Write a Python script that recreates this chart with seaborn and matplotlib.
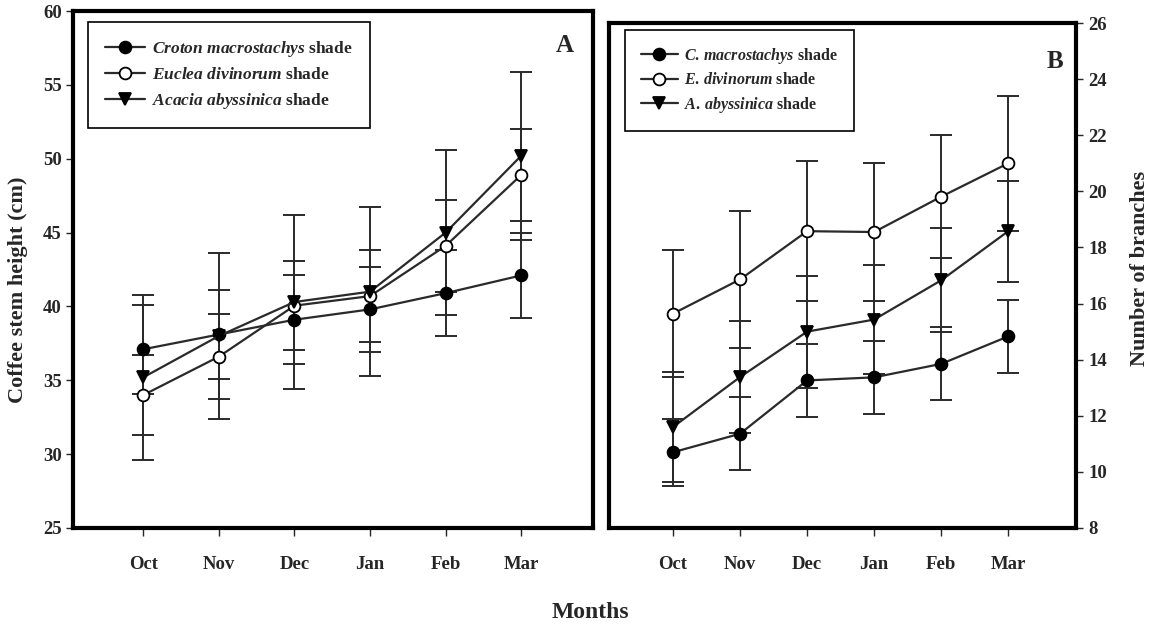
import numpy as np
import pandas as pd
import matplotlib
matplotlib.use("Agg")
import matplotlib.pyplot as plt
import seaborn as sns

months = ["Oct", "Nov", "Dec", "Jan", "Feb", "Mar"]

# Panel A: coffee stem height (cm)
height_croton = [37.1, 38.1, 39.1, 39.8, 40.9, 42.1]
height_croton_err = [3.0, 3.0, 3.0, 2.9, 2.9, 2.9]
height_euclea = [34.0, 36.6, 40.05, 40.7, 44.1, 48.9]
height_euclea_err = [2.7, 2.9, 3.0, 3.1, 3.1, 3.1]
height_acacia = [35.2, 38.0, 40.3, 41.0, 45.0, 50.2]
height_acacia_err = [5.6, 5.6, 5.9, 5.7, 5.6, 5.7]

# Panel B: number of branches
branch_croton = [10.7, 11.36, 13.26, 13.37, 13.85, 14.83]
branch_croton_err = [1.2, 1.3, 1.3, 1.3, 1.3, 1.3]
branch_euclea = [15.64, 16.86, 18.58, 18.55, 19.81, 21.0]
branch_euclea_err = [2.26, 2.45, 2.5, 2.45, 2.2, 2.4]
branch_acacia = [11.6, 13.38, 15.0, 15.43, 16.83, 18.58]
branch_acacia_err = [1.95, 2.0, 2.0, 1.95, 1.85, 1.8]

labels_A = [r"$\mathit{Croton\ macrostachys}$ shade",
            r"$\mathit{Euclea\ divinorum}$ shade",
            r"$\mathit{Acacia\ abyssinica}$ shade"]
labels_B = [r"$\mathit{C.\,macrostachys}$ shade",
            r"$\mathit{E.\,divinorum}$ shade",
            r"$\mathit{A.\,abyssinica}$ shade"]

sns.set_theme(style="ticks")
plt.rcParams["font.family"] = ["Liberation Serif", "DejaVu Serif"]
plt.rcParams["font.weight"] = "bold"
plt.rcParams["mathtext.fontset"] = "custom"
plt.rcParams["mathtext.it"] = "Liberation Serif:italic:bold"
plt.rcParams["mathtext.rm"] = "Liberation Serif:bold"
plt.rcParams["mathtext.bf"] = "Liberation Serif:bold"

W, H = 1159, 630
fig = plt.figure(figsize=(W / 100, H / 100), dpi=100)
fig.patch.set_facecolor("white")
axA = fig.add_axes([73 / W, 102 / H, 520 / W, 517 / H])
axB = fig.add_axes([609 / W, 102 / H, 467 / W, 505 / H])

x = np.arange(len(months))
line_col = "#2a2a2a"
styles = [dict(marker="o", markerfacecolor="black"),
          dict(marker="o", markerfacecolor="white"),
          dict(marker="v", markerfacecolor="black")]


def draw(ax, series, errs, labels):
    for vals, err in zip(series, errs):
        ax.errorbar(x, vals, yerr=err, fmt="none", ecolor=line_col,
                    elinewidth=1.4, capsize=8, capthick=1.4, zorder=2)
    for vals, st, lab in zip(series, styles, labels):
        df = pd.DataFrame({"month": x, "value": vals})
        sns.lineplot(data=df, x="month", y="value", ax=ax, color=line_col,
                     linewidth=1.6, markersize=8.5, markeredgecolor="black",
                     markeredgewidth=1.3, label=lab, zorder=3, **st)


draw(axA, [height_croton, height_euclea, height_acacia],
     [height_croton_err, height_euclea_err, height_acacia_err], labels_A)
draw(axB, [branch_croton, branch_euclea, branch_acacia],
     [branch_croton_err, branch_euclea_err, branch_acacia_err], labels_B)

# Axis A
axA.set_xlim(-0.93, 5.95)
axA.set_ylim(25, 60)
axA.set_yticks(np.arange(25, 61, 5))
axA.set_xticks(x)
axA.set_xticklabels(months)
axA.set_xlabel("")
axA.set_ylabel("")
axA.tick_params(axis="y", direction="out", length=5, width=1, labelsize=13.5, pad=3,
                left=True, right=False)
axA.tick_params(axis="x", direction="out", length=6, width=1, labelsize=13.5, pad=14)

# Axis B
axB.set_xlim(-0.955, 6.01)
axB.set_ylim(8, 26)
axB.set_yticks(np.arange(8, 27, 2))
axB.set_xticks(x)
axB.set_xticklabels(months)
axB.yaxis.tick_right()
axB.set_xlabel("")
axB.set_ylabel("")
axB.tick_params(axis="y", direction="out", length=5, width=1, labelsize=13.5, pad=4,
                left=False, right=True)
axB.tick_params(axis="x", direction="out", length=6, width=1, labelsize=13.5, pad=14)

for ax in (axA, axB):
    ax.set_facecolor("white")
    for sp in ax.spines.values():
        sp.set_visible(True)
        sp.set_linewidth(3)
        sp.set_color("black")
    for lab in ax.get_xticklabels() + ax.get_yticklabels():
        lab.set_fontweight("bold")

legA = axA.legend(loc="upper left", bbox_to_anchor=(0.029, 0.979), borderaxespad=0,
                  frameon=True, fancybox=False, edgecolor="black", framealpha=1,
                  fontsize=12.5, handlelength=2.3, handletextpad=0.4,
                  labelspacing=0.45, borderpad=1.0)
legA.get_frame().set_linewidth(1.2)
legB = axB.legend(loc="upper left", bbox_to_anchor=(0.034, 0.986), borderaxespad=0,
                  frameon=True, fancybox=False, edgecolor="black", framealpha=1,
                  fontsize=11.5, handlelength=2.3, handletextpad=0.4,
                  labelspacing=0.4, borderpad=1.0)
legB.get_frame().set_linewidth(1.2)

axA.text(0.946, 0.934, "A", transform=axA.transAxes, fontsize=18, fontweight="bold",
         ha="center", va="center")
axB.text(0.955, 0.923, "B", transform=axB.transAxes, fontsize=18, fontweight="bold",
         ha="center", va="center")

fig.text(18 / W, 1 - 290 / H, "Coffee stem height (cm)", rotation=90, ha="center",
         va="center", fontsize=16, fontweight="bold")
fig.text(1140 / W, 1 - 268 / H, "Number of branches", rotation=90, ha="center",
         va="center", fontsize=16, fontweight="bold")
fig.text(590 / W, 1 - 612 / H, "Months", ha="center", va="center", fontsize=17,
         fontweight="bold")

fig.savefig("out.png", dpi=100, facecolor="white")
